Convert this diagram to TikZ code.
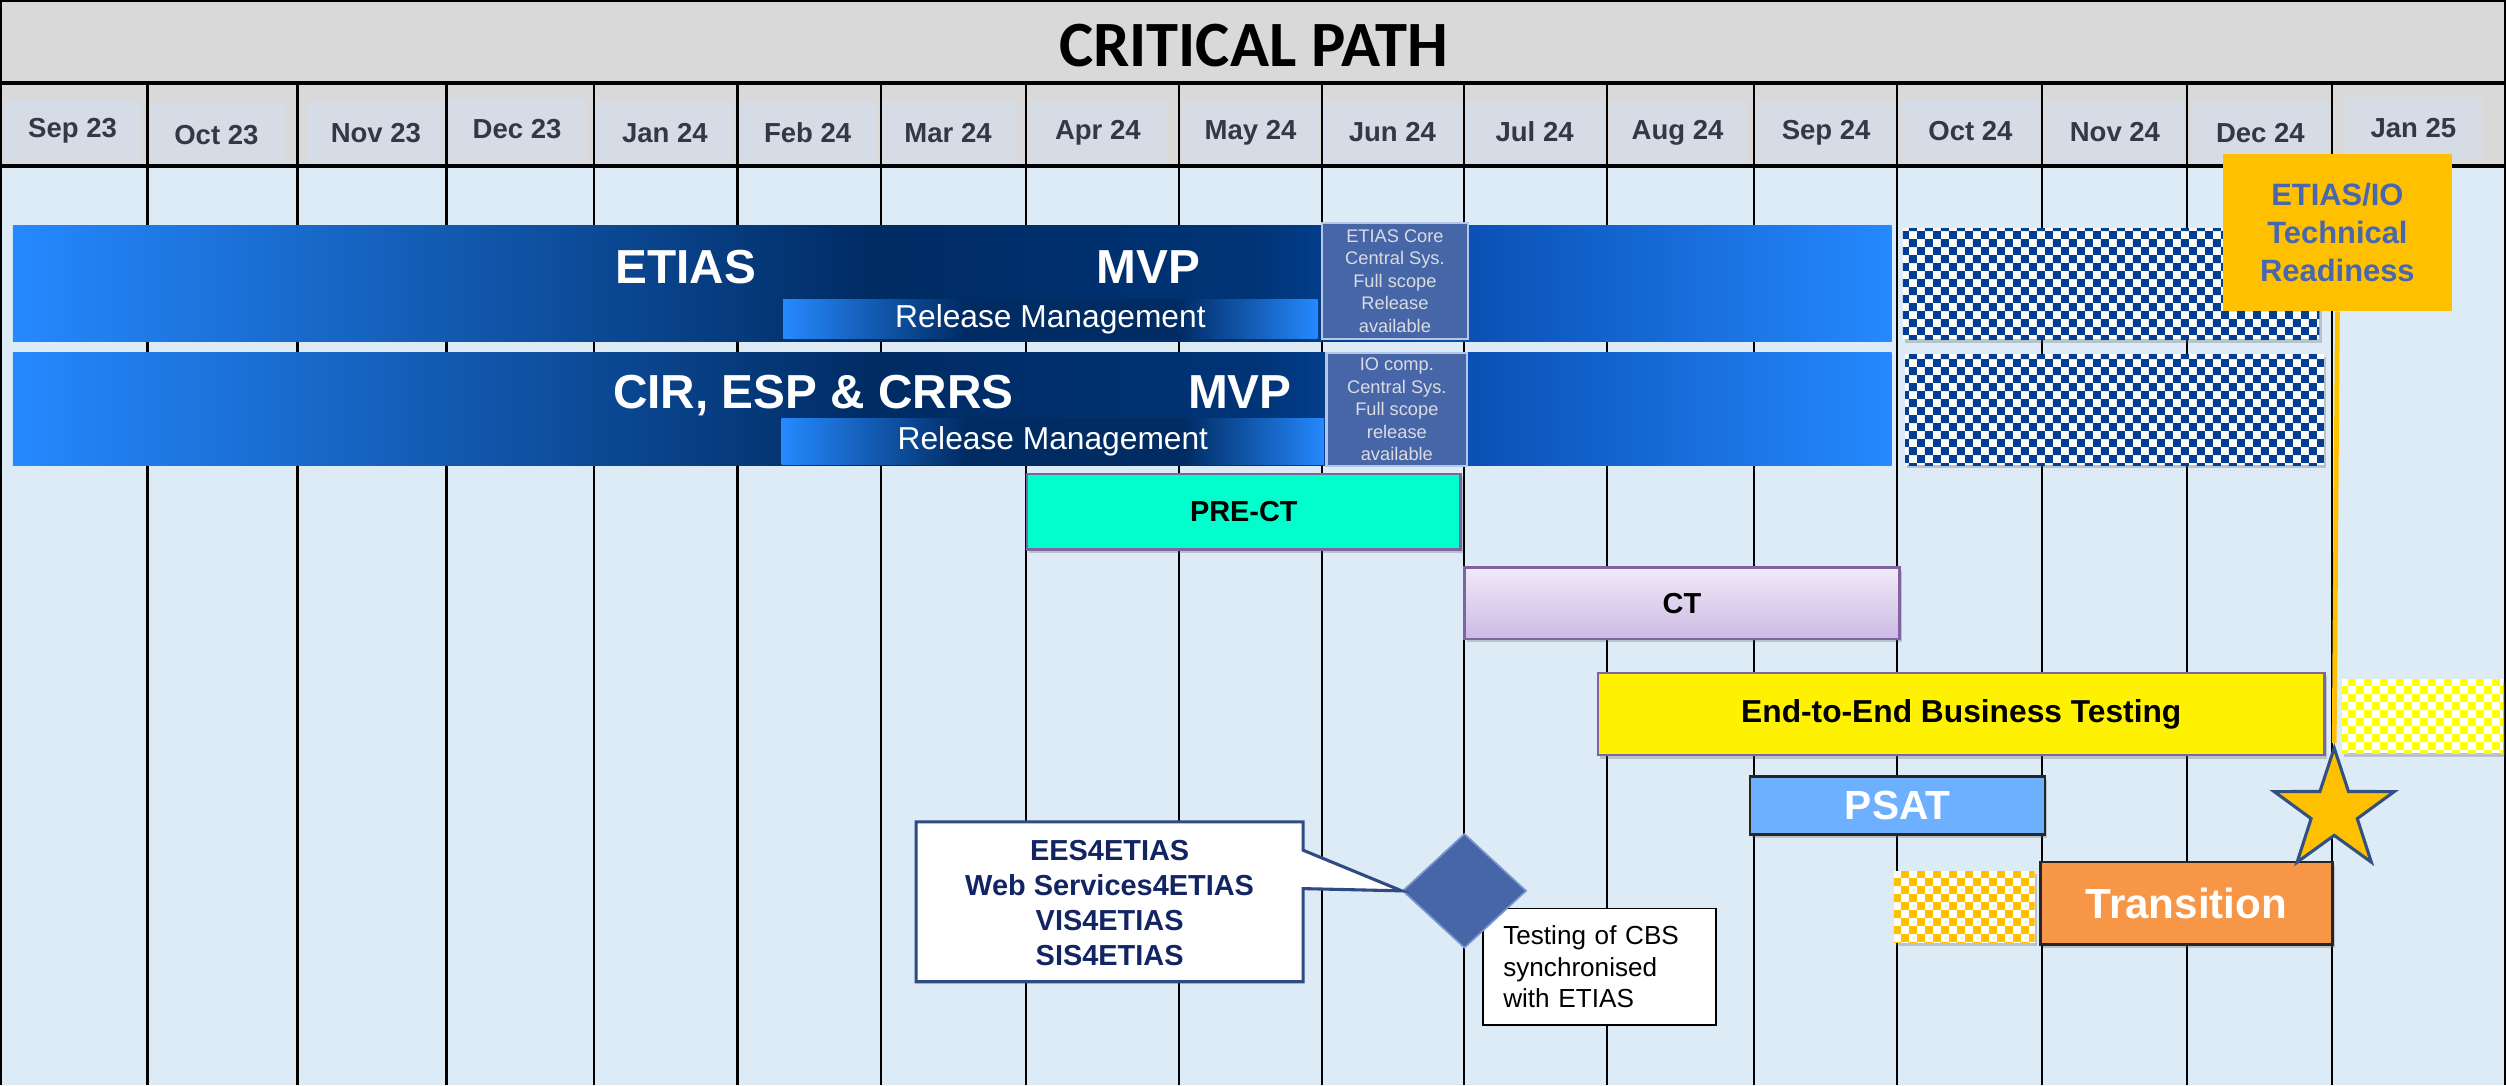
\documentclass[tikz,border=0pt]{standalone}
\usepackage{fontspec}
\setmainfont{Liberation Sans}
\newfontfamily\titlefont{Carlito}
\usetikzlibrary{shapes.geometric,shadows,patterns}

\definecolor{headgrey}{RGB}{217,217,217}
\definecolor{monthfill}{RGB}{214,220,229}
\definecolor{monthtxt}{RGB}{51,56,70}
\definecolor{bodyblue}{RGB}{221,235,247}
\definecolor{barlight}{RGB}{37,137,255}
\definecolor{bardark}{RGB}{0,43,99}
\definecolor{bardarktwo}{RGB}{0,52,118}
\definecolor{barmid}{RGB}{10,80,180}
\definecolor{mslblue}{RGB}{70,102,168}
\definecolor{msledge}{RGB}{180,199,231}
\definecolor{msltxt}{RGB}{218,220,226}
\definecolor{navychk}{RGB}{0,63,145}
\definecolor{readyfill}{RGB}{255,192,0}
\definecolor{readytxt}{RGB}{72,103,174}
\definecolor{aqua}{RGB}{0,255,204}
\definecolor{cttop}{RGB}{240,234,248}
\definecolor{ctbot}{RGB}{203,186,228}
\definecolor{edgepurple}{RGB}{128,100,162}
\definecolor{psatblue}{RGB}{109,176,255}
\definecolor{transfill}{RGB}{247,150,70}
\definecolor{calledge}{RGB}{47,75,130}
\definecolor{calltxt}{RGB}{18,36,100}
\definecolor{staredge}{RGB}{50,80,130}
\definecolor{diaedge}{RGB}{120,150,205}

\pgfdeclarehorizontalshading{bigbarshade}{100bp}{color(0bp)=(barlight); color(25bp)=(barlight); color(48bp)=(bardark); color(58bp)=(bardarktwo); color(63.7bp)=(barmid); color(75bp)=(barlight); color(100bp)=(barlight)}
\pgfdeclarehorizontalshading{rmshade}{100bp}{color(0bp)=(barlight); color(25bp)=(barlight); color(42bp)=(bardark); color(62bp)=(bardark); color(75bp)=(barlight); color(100bp)=(barlight)}

\pgfdeclarepatternformonly{checks}{\pgfqpoint{0pt}{0pt}}{\pgfqpoint{5.69pt}{5.69pt}}{\pgfqpoint{5.69pt}{5.69pt}}{%
  \pgfpathrectangle{\pgfqpoint{0pt}{0pt}}{\pgfqpoint{2.845pt}{2.845pt}}%
  \pgfpathrectangle{\pgfqpoint{2.845pt}{2.845pt}}{\pgfqpoint{2.845pt}{2.845pt}}%
  \pgfusepath{fill}}

\tikzset{
  gridline/.style={line width=0.8pt},
  headline/.style={line width=1.3pt},
  monthbox/.style={fill=monthfill, minimum width=1.72cm, minimum height=0.78cm, inner sep=0, text=monthtxt, font=\fontsize{9.8}{11}\selectfont\bfseries},
  bigbar/.style={shading=bigbarshade, inner sep=0},
  rmbar/.style={shading=rmshade, inner sep=0, text=white, font=\fontsize{11.3}{13}\selectfont},
  bigtext/.style={anchor=base, inner sep=0, text=white, font=\fontsize{17}{20}\selectfont\bfseries},
  milestone/.style={fill=mslblue, draw=msledge, line width=0.8pt, inner sep=0, align=center, text=msltxt, font=\fontsize{6.5}{8}\selectfont},
  softshadow/.style={drop shadow={shadow xshift=0.8pt, shadow yshift=-1.2pt, opacity=0.3, fill=black!60}},
  checkbox/.style={softshadow, preaction={fill=white}, pattern=checks, inner sep=0},
  readybox/.style={fill=readyfill, inner sep=0, align=center, text=readytxt, font=\fontsize{11}{13.6}\selectfont\bfseries},
  readyline/.style={draw=readyfill, line width=1.7pt},
  testbar/.style={softshadow, draw=edgepurple, line width=0.9pt, inner sep=0, font=\fontsize{10.3}{12}\selectfont\bfseries},
  darkbar/.style={softshadow, draw=black!85, line width=0.9pt, inner sep=0, text=white},
  goalstar/.style={star, star points=5, star point ratio=2.6, minimum size=1.58cm, inner sep=0, fill=readyfill, draw=staredge, line width=1.1pt},
  syncdia/.style={diamond, minimum width=1.55cm, minimum height=1.43cm, inner sep=0, fill=mslblue, draw=diaedge, line width=0.6pt},
  notebox/.style={draw=black, fill=white, line width=0.6pt, text width=2.408cm, align=left, inner xsep=0.252cm, inner ysep=0, minimum height=1.46cm, font=\fontsize{9.3}{11.3}\selectfont},
  callbox/.style={draw=calledge, fill=white, line width=1.1pt},
  calltext/.style={inner sep=0, align=center, text=calltxt, font=\fontsize{10.3}{12.4}\selectfont\bfseries}
}

\begin{document}
\begin{tikzpicture}[x=0.02cm, y=-0.02cm]
    \useasboundingbox (0,0) rectangle (1568,679);
    \fill[bodyblue] (0,104) rectangle (1568,679);
    \fill[headgrey] (0,52) rectangle (1568,104);
    \draw[headline, fill=headgrey] (0,0) rectangle (1568,52);
    \node[inner sep=0, font=\titlefont\fontsize{23}{26}\selectfont\bfseries] (title) at (784.3,28.7) {CRITICAL PATH};
    \foreach \m/\x/\y [count=\i] in {Sep 23/45.4/81.8, Oct 23/135.4/84.5, Nov 23/235.2/83, Dec 23/323.5/81,
        Jan 24/416/83.4, Feb 24/505.3/83, Mar 24/593.2/83, Apr 24/686.9/83, May 24/782.5/83,
        Jun 24/871.2/82.4, Jul 24/960.2/82.4, Aug 24/1049.6/83, Sep 24/1142.6/83, Oct 24/1232.9/82,
        Nov 24/1323.3/82.4, Dec 24/1414.3/83, Jan 25/1510/80.3}
        \node[monthbox] (m\i) at (\x,\y) {\m};
    \foreach \x in {92.3,186.1,279.4,371.7,461.5,551.3,642,737.9,827.1,915.9,1005.6,1097.5,1186.8,1277.6,1368.4,1459.2}
        \draw[gridline] (\x,52) -- (\x,679);
    \draw[headline] (0,104) -- (1568,104);
    \draw[headline] (0,0) -- (0,679);
    \draw[headline] (1568,0) -- (1568,679);

    \node[bigbar, minimum width=23.514cm, minimum height=1.448cm] (etias) at (595.85,177.6) {};
    \node[bigbar, minimum width=23.514cm, minimum height=1.422cm] (cir) at (595.85,255.85) {};
    \node[bigtext] (etiasname) at (429,177.3) {ETIAS};
    \node[bigtext] (etiasmvp) at (718.6,177.3) {MVP};
    \node[bigtext] (cirname) at (509,255.5) {CIR, ESP \& CRRS};
    \node[bigtext] (cirmvp) at (775.8,255.5) {MVP};
    \node[rmbar, minimum width=6.69cm, minimum height=0.486cm] (etiasrm) at (657.25,199.85) {Release Management};
    \node[rmbar, minimum width=6.792cm, minimum height=0.57cm] (cirrm) at (658.8,276.25) {Release Management};
    \node[milestone, minimum width=1.82cm, minimum height=1.46cm] (etiascore) at (872.8,175.8) {ETIAS Core\\Central Sys.\\Full scope\\Release\\available};
    \node[milestone, minimum width=1.76cm, minimum height=1.408cm] (iocomp) at (874,256.2) {IO comp.\\Central Sys.\\Full scope\\release\\available};
    \node[checkbox, pattern color=navychk, minimum width=5.214cm, minimum height=1.388cm] (etiaslater) at (1320.95,177.6) {};
    \node[checkbox, pattern color=navychk, minimum width=5.24cm, minimum height=1.39cm] (cirlater) at (1323,256.25) {};
    \node[readybox, minimum width=2.86cm, minimum height=1.964cm] (ready) at (1462.5,145.5) {ETIAS/IO\\Technical\\Readiness};

    \node[testbar, fill=aqua, minimum width=5.43cm, minimum height=0.944cm] (prect) at (778.25,320.2) {PRE-CT};
    \node[testbar, top color=cttop, bottom color=ctbot, minimum width=5.444cm, minimum height=0.894cm] (ct) at (1052.4,377.55) {CT};
    \node[testbar, fill=yellow, minimum width=9.098cm, minimum height=1.03cm, font=\fontsize{11.3}{13}\selectfont\bfseries] (e2e) at (1227.15,446.75) {End-to-End Business Testing};
    \node[checkbox, pattern color=yellow, minimum width=2.012cm, minimum height=0.928cm] (e2elater) at (1515.7,448.2) {};
    \node[darkbar, fill=psatblue, minimum width=3.694cm, minimum height=0.72cm, font=\fontsize{14.5}{16}\selectfont\bfseries] (psat) at (1187.35,504) {PSAT};
    \node[checkbox, pattern color=readyfill, minimum width=1.76cm, minimum height=0.9cm] (transearly) at (1229,567.5) {};
    \node[darkbar, fill=transfill, minimum width=3.654cm, minimum height=1.036cm, font=\fontsize{15}{17}\selectfont\bfseries] (trans) at (1367.95,565.1) {Transition};

    \node[notebox] (cbs) at (1000.8,604.9) {Testing of CBS\\synchronised\\with ETIAS};
    \node[syncdia] (dia) at (916.3,557.4) {};
    \draw[callbox] (573.2,514.2) -- (815.4,514.2) -- (815.4,532) -- (dia.west) -- (815.4,556) -- (815.4,614.3) -- (573.2,614.3) -- cycle;
    \node[calltext] (ees) at (694.3,564.9) {EES4ETIAS\\Web Services4ETIAS\\VIS4ETIAS\\SIS4ETIAS};

    \node[goalstar] (star) at (1460.5,507.5) {};
    \draw[readyline] (ready.south) -- (star.north);
\end{tikzpicture}
\end{document}
